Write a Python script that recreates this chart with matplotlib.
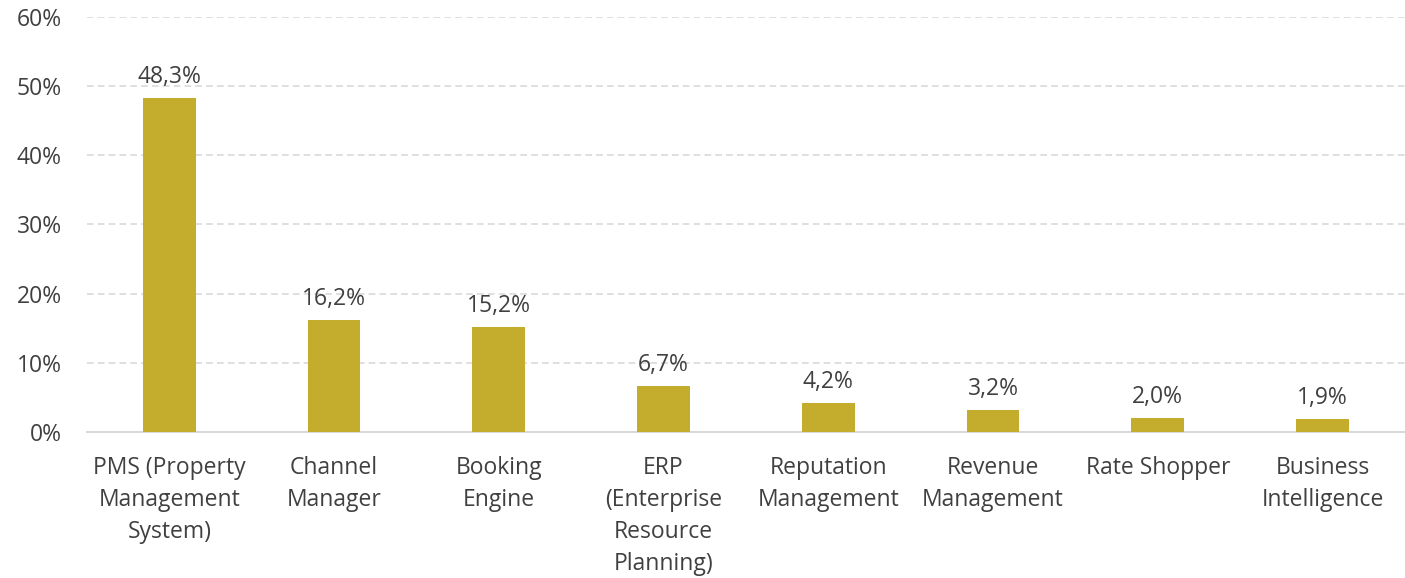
import matplotlib.pyplot as plt
from matplotlib.ticker import FuncFormatter

categories = ['PMS (Property\nManagement\nSystem)', 'Channel\nManager', 'Booking\nEngine',
              'ERP\n(Enterprise\nResource\nPlanning)', 'Reputation\nManagement',
              'Revenue\nManagement', 'Rate Shopper', 'Business\nIntelligence']
values = [48.3, 16.2, 15.2, 6.7, 4.2, 3.2, 2.0, 1.9]

BAR_COLOR = '#C4AC2C'
TEXT_COLOR = '#404040'
GRID_COLOR = '#D9D9D9'
FS = 16.5

plt.rcParams['font.family'] = ['Open Sans', 'DejaVu Sans']

fig = plt.figure(figsize=(14.05, 5.78), dpi=100)
ax = fig.add_axes([0.0619, 0.2526, 0.938, 0.718])

x = range(len(categories))
ax.bar(x, values, width=0.32, color=BAR_COLOR, zorder=3)
for xi, v in zip(x, values):
    ax.annotate(f'{v:.1f}%'.replace('.', ','), (xi, v), xytext=(0, 6.5),
                textcoords='offset points', ha='center', va='bottom',
                fontsize=FS, color=TEXT_COLOR)

ax.set_xlim(-0.5, len(categories) - 0.5)
ax.set_ylim(0, 60)
ax.set_yticks(range(0, 61, 10))
ax.yaxis.set_major_formatter(FuncFormatter(lambda v, p: f'{v:.0f}%'))
ax.set_xticks(list(x))
ax.set_xticklabels(categories, linespacing=1.46)

ax.grid(axis='y', color=GRID_COLOR, linestyle=(0, (4, 2.5)), linewidth=1.2, zorder=0)
for s in ['top', 'right', 'left']:
    ax.spines[s].set_visible(False)
ax.spines['bottom'].set_color(GRID_COLOR)
ax.spines['bottom'].set_linewidth(1.5)
ax.tick_params(axis='both', length=0, labelsize=FS, labelcolor=TEXT_COLOR)
ax.tick_params(axis='y', pad=18)
ax.tick_params(axis='x', pad=17)

fig.savefig('out.png', dpi=100)
